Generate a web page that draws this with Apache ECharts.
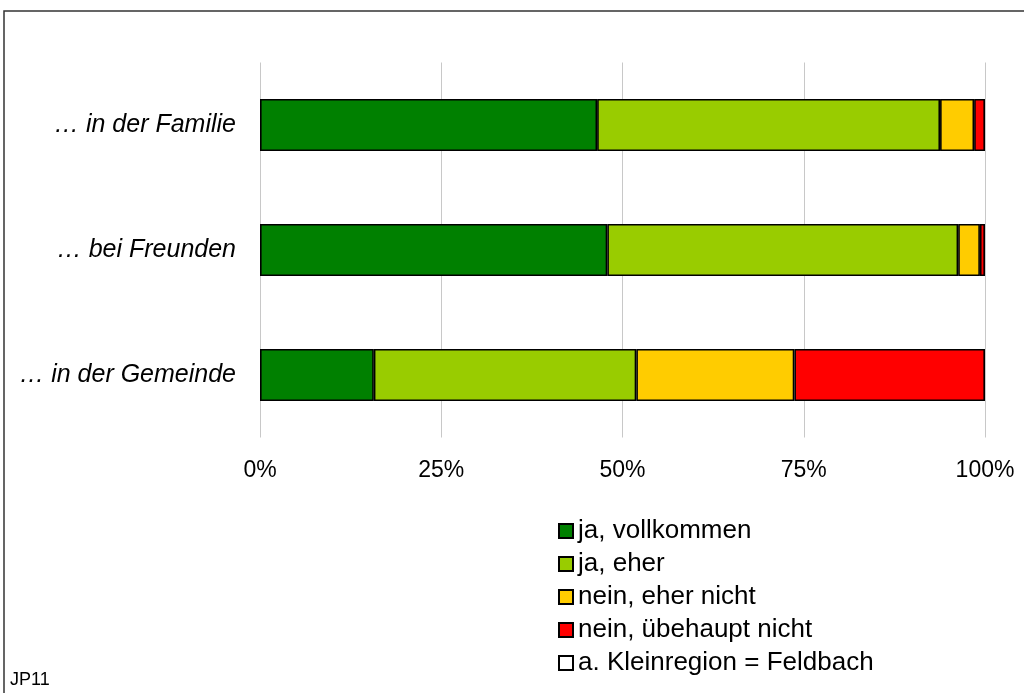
<!DOCTYPE html>
<html>
<head>
<meta charset="utf-8">
<script src="https://cdn.jsdelivr.net/npm/echarts@6/dist/echarts.min.js"></script>
<style>
  html, body { margin: 0; padding: 0; background: #fff; }
  #chart { width: 1024px; height: 693px; }
</style>
</head>
<body>
<div id="chart"></div>
<script>
// Vertrauen: Anteile der Antworten je Bereich (Prozent)
var categories = ['… in der Familie', '… bei Freunden', '… in der Gemeinde'];
var jaVollkommen = [46.5, 47.9, 15.7];
var jaEher = [47.3, 48.4, 36.2];
var neinEherNicht = [4.7, 3.0, 21.8];
var neinUeberhaupt = [1.5, 0.7, 26.3];
var xTicks = [0, 25, 50, 75, 100];

var seriesNames = ['ja, vollkommen', 'ja, eher', 'nein, eher nicht', 'nein, übehaupt nicht', 'a. Kleinregion = Feldbach'];
var seriesColors = ['#008000', '#99CC00', '#FFCC00', '#FF0000', '#FFFFFF'];
var seriesValues = [jaVollkommen, jaEher, neinEherNicht, neinUeberhaupt, []];

var FONT = 'Liberation Sans, Arial, sans-serif';
var chart = echarts.init(document.getElementById('chart'));

var series = seriesNames.map(function (name, i) {
  return {
    name: name,
    type: 'bar',
    stack: 'total',
    barWidth: '41.6%',
    data: seriesValues[i],
    itemStyle: { color: seriesColors[i], borderColor: '#000', borderWidth: 1.6 },
    emphasis: { disabled: true }
  };
});

chart.setOption({
  animation: false,
  textStyle: { fontFamily: FONT },
  grid: { left: 260, right: 39, top: 62.5, bottom: 255.5, containLabel: false },
  xAxis: {
    type: 'value',
    min: xTicks[0],
    max: xTicks[xTicks.length - 1],
    interval: 25,
    axisLine: { show: false },
    axisTick: { show: false },
    splitLine: { lineStyle: { color: '#c8c8c8', width: 1 } },
    axisLabel: {
      margin: 22,
      color: '#000',
      fontSize: 23,
      formatter: function (v) { return v + '%'; }
    }
  },
  yAxis: {
    type: 'category',
    inverse: true,
    data: categories,
    axisLine: { show: false },
    axisTick: { show: false },
    axisLabel: { margin: 24, color: '#000', fontSize: 25, fontStyle: 'italic' }
  },
  legend: {
    orient: 'vertical',
    left: 553,
    top: 513,
    itemWidth: 14,
    itemHeight: 14,
    itemGap: 7,
    icon: 'rect',
    selectedMode: false,
    textStyle: { fontSize: 26, lineHeight: 26, color: '#000' },
    data: seriesNames
  },
  graphic: [
    {
      type: 'rect',
      shape: { x: 4, y: 11, width: 1040, height: 700 },
      style: { fill: 'none', stroke: '#333', lineWidth: 1.5 },
      silent: true
    },
    {
      type: 'text',
      left: 10,
      top: 671,
      style: { text: 'JP11', fontSize: 18, fill: '#000', fontFamily: FONT }
    }
  ],
  series: series
});
</script>
</body>
</html>
